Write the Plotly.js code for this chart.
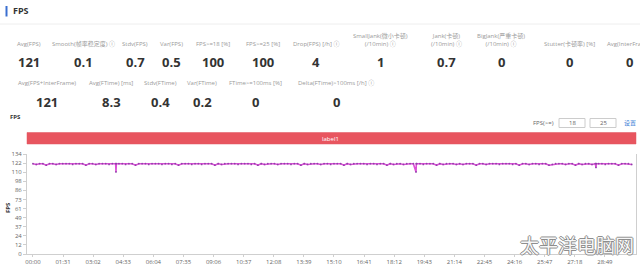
<!DOCTYPE html>
<html>
<head>
<meta charset="utf-8">
<script src="https://cdn.plot.ly/plotly-3.0.1.min.js"></script>
<style>html,body{margin:0;padding:0;background:#fff;}#chart{width:640px;height:265px;}</style>
</head>
<body>
<div id="chart"></div>
<script>
// ---- data ----
const sampleStepSec = 10;
const fpsValues = [
121,120,121,121,119,121,121,120,121,121,
121,121,120,121,121,121,119,121,121,120,
121,121,121,120,121,121,121,121,120,121,
121,119,121,121,121,120,121,121,121,120,
121,121,120,121,119,121,121,121,120,121,
121,120,121,121,121,119,121,120,121,121,
121,121,120,121,121,121,120,121,119,121,
120,121,121,121,120,121,121,121,120,121,
121,119,121,120,121,121,121,120,121,121,
120,121,121,121,119,121,120,121,121,121,
121,120,121,121,120,121,121,119,121,120,
121,121,120,121,121,121,121,121,120,121,
121,121,119,121,120,121,121,121,120,121,
120,121,121,121,119,121,121,120,121,121,
121,120,121,121,121,120,121,119,121,121,
120,121,121,120,121,121,119,120,121,121,
121,120,121,121,119,121,120,121,121,120,
121,121,121,120,121,121,121,119,121,121,
121,120
];
// short drops (seconds, fps)
const dropTimes = [251, 252, 1158, 1159, 1702, 1703];
const dropValues = [110, 121, 110, 121, 116, 121];

const xTickSeconds = [0,91,182,273,364,455,546,637,728,819,910,1001,1092,1183,1274,1365,1456,1547,1638,1729];
const xTickLabels = ["00:00","01:31","03:02","04:33","06:04","07:35","09:06","10:37","12:08","13:39","15:10","16:41","18:12","19:43","21:14","22:45","24:16","25:47","27:18","28:49"];
const yTickValues = [0,12.18,24.36,36.55,48.73,60.91,73.09,85.27,97.45,109.64,121.82,134];
const yTickLabels = ["0","12","24","37","49","61","73","86","98","110","122","134"];

const metricsRow1Labels = ["Avg(FPS)","Smooth(帧率稳定度) ⓘ","Stdv(FPS)","Var(FPS)","FPS>=18 [%]","FPS>=25 [%]","Drop(FPS) [/h] ⓘ","SmallJank(微小卡顿)<br>(/10min) ⓘ","Jank(卡顿)<br>(/10min) ⓘ","BigJank(严重卡顿)<br>(/10min) ⓘ","Stutter(卡顿率) [%]","Avg(InterFrame)"];
const metricsRow1Values = ["121","0.1","0.7","0.5","100","100","4","1","0.7","0","0","0"];
const metricsRow2Labels = ["Avg(FPS+InterFrame)","Avg(FTime) [ms]","Stdv(FTime)","Var(FTime)","FTime>=100ms [%]","Delta(FTime)>100ms [/h] ⓘ"];
const metricsRow2Values = ["121","8.3","0.4","0.2","0","0"];
const thresholdValues = ["18","25"];

// ---- layout helpers ----
const W = 640, H = 265, ML = 27, MR = 4, MT = 154, MB = 11;
const PW = W - ML - MR, PH = H - MT - MB;
const px = x => (x - ML) / PW;
const py = y => (H - MB - y) / PH;

const pts = fpsValues.map((v, i) => [i * sampleStepSec, v]);
dropTimes.forEach((t, i) => pts.push([t, dropValues[i]]));
pts.sort((a, b) => a[0] - b[0]);

const row1X = [29, 83, 135, 171, 213, 263, 316, 380, 446, 501, 569, 629];
const row2X = [47, 111, 160, 202, 255, 336];

const annotations = [];
function ann(text, x, y, size, color, opts) {
  annotations.push(Object.assign({
    text: text, x: px(x), y: py(y), xref: 'paper', yref: 'paper',
    showarrow: false, xanchor: 'center', yanchor: 'middle',
    font: {size: size, color: color}
  }, opts || {}));
}
ann('<b>FPS</b>', 11, 11, 9, '#333', {xanchor: 'left'});
metricsRow1Labels.forEach((t, i) => {
  const two = t.indexOf('<br>') >= 0;
  ann(t, row1X[i], two ? 40 : 44.5, 6, '#9a9a9a', {align: 'center'});
});
metricsRow1Values.forEach((t, i) => ann('<b>' + t + '</b>', row1X[i], 62, 13, '#333'));
metricsRow2Labels.forEach((t, i) => ann(t, row2X[i], 83, 6, '#9a9a9a'));
metricsRow2Values.forEach((t, i) => ann('<b>' + t + '</b>', row2X[i], 101.5, 13, '#333'));
ann('<b>FPS</b>', 15, 116.5, 6, '#333');
ann('FPS(>=)', 543, 123, 6, '#666');
ann(thresholdValues[0], 572, 123, 6, '#666');
ann(thresholdValues[1], 603, 123, 6, '#666');
ann('设置', 630, 123, 6, '#3c7fd6');
ann('label1', 330, 138.5, 6, '#fff');
ann('<b>FPS</b>', 8, 208, 6, '#333', {textangle: -90});
ann('太平洋电脑网', 577, 244, 19, 'rgba(255,255,255,0.95)', {font: {size: 19, color: 'rgba(255,255,255,0.95)', family: 'Noto Sans CJK SC', shadow: '-1px 0 #888, 1px 0 #888, 0 -1px #888, 0 1px #888'}});

const shapes = [
  {type: 'rect', xref: 'paper', yref: 'paper', x0: px(5.5), x1: px(7.5), y0: py(6), y1: py(16.5), fillcolor: '#3a6fd0', line: {width: 0}},
  {type: 'line', xref: 'paper', yref: 'paper', x0: px(0), x1: px(640), y0: py(24), y1: py(24), line: {color: '#eeeeee', width: 1}},
  {type: 'rect', xref: 'paper', yref: 'paper', x0: px(27), x1: px(636), y0: py(144), y1: py(132.5), fillcolor: '#e8555f', line: {color: '#e05560', width: 0.5}},
  {type: 'rect', xref: 'paper', yref: 'paper', x0: px(559), x1: px(585), y0: py(127.5), y1: py(118.5), fillcolor: '#fff', line: {color: '#ccc', width: 1}, layer: 'below'},
  {type: 'rect', xref: 'paper', yref: 'paper', x0: px(590), x1: px(616), y0: py(127.5), y1: py(118.5), fillcolor: '#fff', line: {color: '#ccc', width: 1}, layer: 'below'}
];

const trace = {
  x: pts.map(p => p[0]), y: pts.map(p => p[1]), type: 'scatter', mode: 'lines+markers',
  line: {color: '#dc50d6', width: 1.6},
  marker: {color: '#9040aa', size: 1.8},
  hoverinfo: 'skip'
};

const layout = {
  width: W, height: H,
  margin: {l: ML, r: MR, t: MT, b: MB, pad: 0},
  paper_bgcolor: '#fff', plot_bgcolor: '#fff',
  font: {family: 'Open Sans, Noto Sans CJK SC, sans-serif', color: '#666'},
  showlegend: false,
  xaxis: {
    range: [-18, 1823], tickmode: 'array', tickvals: xTickSeconds, ticktext: xTickLabels,
    showgrid: false, zeroline: false, showline: true, linecolor: '#cfcfcf', linewidth: 1,
    ticks: 'outside', ticklen: 2, tickcolor: '#cfcfcf', tickfont: {size: 6, color: '#666'}
  },
  yaxis: {
    range: [0, 134], tickmode: 'array', tickvals: yTickValues, ticktext: yTickLabels,
    showgrid: false, zeroline: false, showline: true, linecolor: '#cfcfcf', linewidth: 1, mirror: true,
    ticks: 'outside', ticklen: 3, tickcolor: '#cfcfcf', tickfont: {size: 6, color: '#666'}
  },
  annotations: annotations,
  shapes: shapes
};

Plotly.newPlot('chart', [trace], layout, {displayModeBar: false, staticPlot: true});
</script>
</body>
</html>
